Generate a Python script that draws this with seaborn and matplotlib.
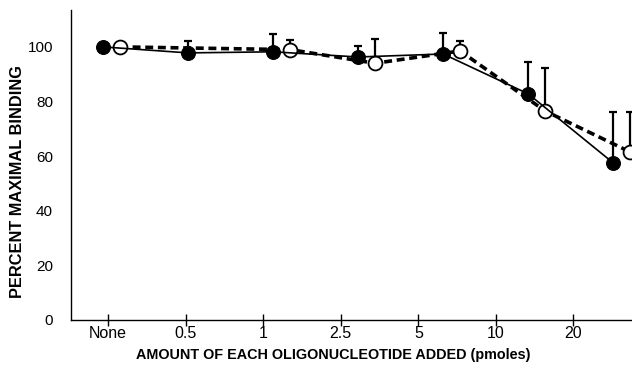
import matplotlib
matplotlib.use('Agg')
import matplotlib.pyplot as plt
import seaborn as sns
import pandas as pd
import numpy as np

# categories on the x axis
doses = ['None', '0.5', '1', '2.5', '5', '10', '20']

# filled circles (solid line) and their upper error bar ends
filled_vals = [100, 97.8, 98.2, 96.3, 97.4, 82.8, 57.5]
filled_top = [np.nan, 102, 104.8, 100.4, 105.1, 94.6, 76.3]

# open circles (dashed line); no point at 0.5
open_vals = [100, np.nan, 99.0, 94.0, 98.5, 76.5, 61.5]
open_top = [np.nan, np.nan, 102.6, 103, 102, 92.2, 76.3]

sns.set_style('white')
plt.rcParams['font.family'] = ['Liberation Sans', 'DejaVu Sans']
plt.rcParams['text.color'] = 'black'
plt.rcParams['axes.labelcolor'] = 'black'
plt.rcParams['xtick.color'] = 'black'
plt.rcParams['ytick.color'] = 'black'

df = pd.DataFrame({'pos': np.arange(len(doses)), 'dose': doses,
                   'filled': filled_vals, 'filled_top': filled_top,
                   'open': open_vals, 'open_top': open_top})
df['pos_open'] = df['pos'] + 0.2

fig = plt.figure(figsize=(6.32, 3.71), dpi=100)
ax = fig.add_axes([0.1123, 0.1375, 0.8877, 0.8355])

# upper-only error bars
for xcol, ycol, tcol in [('pos', 'filled', 'filled_top'), ('pos_open', 'open', 'open_top')]:
    d = df.dropna(subset=[ycol, tcol])
    ax.errorbar(d[xcol], d[ycol], yerr=[np.zeros(len(d)), d[tcol] - d[ycol]],
                fmt='none', ecolor='black', elinewidth=1.6, capsize=3.2,
                capthick=1.6, zorder=2)

d_open = df.dropna(subset=['open'])
sns.lineplot(data=d_open, x='pos_open', y='open', ax=ax, color='black',
             lw=2.6, dashes=False, linestyle=(0, (2.2, 1.3)), marker='o',
             markersize=10, markerfacecolor='white', markeredgecolor='black',
             markeredgewidth=1.3, zorder=3)
sns.lineplot(data=df, x='pos', y='filled', ax=ax, color='black', lw=1.2,
             marker='o', markersize=10, markerfacecolor='black',
             markeredgecolor='black', zorder=4)

ax.set_xlim(-0.376, 6.22)
ax.set_ylim(0, 113.5)
ax.set_xticks(0.06 + 0.912 * np.arange(len(doses)))
ax.set_xticklabels(doses, fontsize=11.5)
ax.set_yticks([0, 20, 40, 60, 80, 100])
ax.tick_params(axis='y', left=False, length=0, pad=13, labelsize=11)
ax.tick_params(axis='x', bottom=True, direction='inout', length=9, width=1,
               pad=0, color='black')

for side in ['top', 'right']:
    ax.spines[side].set_visible(False)
for side in ['left', 'bottom']:
    ax.spines[side].set_color('black')
    ax.spines[side].set_linewidth(1)

ax.set_xlabel('AMOUNT OF EACH OLIGONUCLEOTIDE ADDED (pmoles)', fontsize=10.4,
              fontweight='bold')
ax.xaxis.set_label_coords(0.467, -0.09)
ax.set_ylabel('PERCENT MAXIMAL BINDING', fontsize=11.8, fontweight='bold')
ax.yaxis.set_label_coords(-0.082, 0.448)

fig.savefig('out.png', dpi=100)
